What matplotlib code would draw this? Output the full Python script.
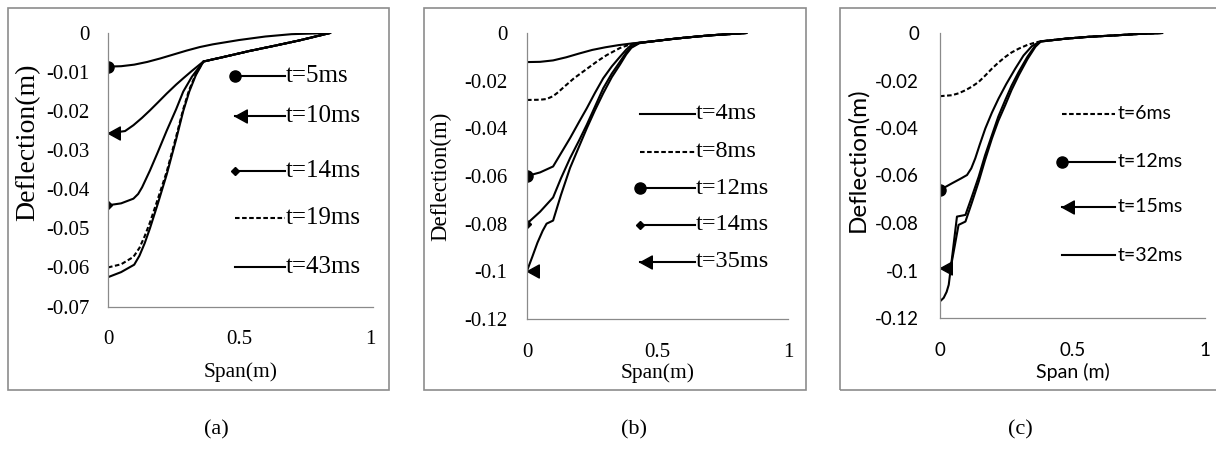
import numpy as np
import matplotlib
matplotlib.use('Agg')
import matplotlib.pyplot as plt
from matplotlib.path import Path
from matplotlib.patches import Rectangle

# ---------------- data ----------------
# panel (a)
a5_x = [0, 0.05, 0.10, 0.15, 0.20, 0.25, 0.30, 0.35, 0.40, 0.50, 0.60, 0.70, 0.847]
a5_y = [-0.0086, -0.0085, -0.0081, -0.0074, -0.0065, -0.0055, -0.0045, -0.0036, -0.0029,
        -0.0018, -0.0009, -0.0003, 0]
a10_x = [0, 0.065, 0.097, 0.13, 0.16, 0.19, 0.224, 0.26, 0.287, 0.32, 0.364,
         0.45, 0.54, 0.64, 0.73, 0.847]
a10_y = [-0.0257, -0.0251, -0.0236, -0.0217, -0.0198, -0.0178, -0.0155, -0.0132, -0.0116,
         -0.0097, -0.0073, -0.0060, -0.0046, -0.0032, -0.0019, 0]
a14_x = [0, 0.05, 0.097, 0.115, 0.13, 0.16, 0.19, 0.224, 0.26, 0.287, 0.32, 0.364,
         0.45, 0.54, 0.64, 0.73, 0.847]
a14_y = [-0.0441, -0.0436, -0.0424, -0.0412, -0.0395, -0.0352, -0.0305, -0.0250, -0.0195,
         -0.0150, -0.0112, -0.0073, -0.0060, -0.0046, -0.0032, -0.0019, 0]
a19_x = [0, 0.05, 0.097, 0.12, 0.14, 0.16, 0.19, 0.224, 0.26, 0.287, 0.31, 0.335, 0.364,
         0.45, 0.54, 0.64, 0.73, 0.847]
a19_y = [-0.0600, -0.0592, -0.0573, -0.0550, -0.0520, -0.0485, -0.0425, -0.0355, -0.0265,
         -0.0195, -0.0145, -0.0105, -0.0073, -0.0060, -0.0046, -0.0032, -0.0019, 0]
a43_x = [0, 0.05, 0.10, 0.12, 0.14, 0.16, 0.19, 0.224, 0.26, 0.287, 0.31, 0.335, 0.364,
         0.45, 0.54, 0.64, 0.73, 0.847]
a43_y = [-0.0625, -0.0612, -0.0593, -0.0570, -0.0538, -0.0500, -0.0437, -0.0362, -0.0272,
         -0.0200, -0.0150, -0.0108, -0.0073, -0.0060, -0.0046, -0.0032, -0.0019, 0]

# panel (b)
b4_x = [0, 0.05, 0.10, 0.15, 0.20, 0.25, 0.30, 0.35, 0.40, 0.48, 0.55, 0.61, 0.70, 0.84]
b4_y = [-0.0122, -0.0121, -0.0115, -0.0102, -0.0086, -0.0071, -0.0060, -0.0051, -0.0044,
        -0.0035, -0.0026, -0.0019, -0.0010, 0]
b8_x = [0, 0.05, 0.075, 0.10, 0.12, 0.14, 0.18, 0.23, 0.27, 0.305, 0.356, 0.40, 0.43,
        0.48, 0.55, 0.61, 0.70, 0.84]
b8_y = [-0.0281, -0.0280, -0.0277, -0.0265, -0.0248, -0.0228, -0.0190, -0.0150, -0.0118,
        -0.0093, -0.0063, -0.0046, -0.0041, -0.0035, -0.0026, -0.0019, -0.0010, 0]
b12_x = [0, 0.05, 0.10, 0.13, 0.165, 0.20, 0.229, 0.26, 0.292, 0.325, 0.356, 0.38, 0.40,
         0.43, 0.48, 0.55, 0.61, 0.70, 0.84]
b12_y = [-0.0600, -0.0585, -0.0560, -0.0505, -0.0441, -0.0372, -0.0316, -0.0252, -0.0190,
         -0.0140, -0.0100, -0.0070, -0.0050, -0.0041, -0.0035, -0.0026, -0.0019, -0.0010, 0]
b14_x = [0, 0.05, 0.10, 0.13, 0.165, 0.20, 0.229, 0.26, 0.292, 0.325, 0.356, 0.38, 0.40,
         0.43, 0.48, 0.55, 0.61, 0.70, 0.84]
b14_y = [-0.0800, -0.0750, -0.0690, -0.0610, -0.0525, -0.0450, -0.0385, -0.0310, -0.0232,
         -0.0170, -0.0121, -0.0082, -0.0058, -0.0042, -0.0035, -0.0026, -0.0019, -0.0010, 0]
b35_x = [0, 0.02, 0.04, 0.06, 0.075, 0.10, 0.13, 0.165, 0.20, 0.229, 0.26, 0.292, 0.325,
         0.356, 0.38, 0.40, 0.43, 0.48, 0.55, 0.61, 0.70, 0.84]
b35_y = [-0.0998, -0.0940, -0.0880, -0.0830, -0.0800, -0.0787, -0.0680, -0.0566, -0.0475,
         -0.0400, -0.0325, -0.0253, -0.0185, -0.0133, -0.0090, -0.0062, -0.0043, -0.0035,
         -0.0026, -0.0019, -0.0010, 0]

# panel (c)
c6_x = [0, 0.045, 0.07, 0.096, 0.12, 0.146, 0.17, 0.196, 0.22, 0.246, 0.27, 0.297, 0.33,
        0.36, 0.38, 0.473, 0.562, 0.662, 0.75, 0.838]
c6_y = [-0.0266, -0.0262, -0.0254, -0.0241, -0.0226, -0.0206, -0.0180, -0.0150, -0.0125,
        -0.0101, -0.0082, -0.0066, -0.0050, -0.0040, -0.0035, -0.0024, -0.0016, -0.0010,
        -0.0004, 0]
c12_x = [0, 0.045, 0.08, 0.102, 0.118, 0.133, 0.15, 0.171, 0.196, 0.221, 0.25, 0.284,
         0.315, 0.347, 0.38, 0.473, 0.562, 0.662, 0.75, 0.838]
c12_y = [-0.0661, -0.0633, -0.0612, -0.0598, -0.0570, -0.0528, -0.0470, -0.0402, -0.0335,
         -0.0276, -0.0215, -0.0150, -0.0095, -0.0055, -0.0035, -0.0024, -0.0016, -0.0010,
         -0.0004, 0]
c15_x = [0, 0.039, 0.055, 0.070, 0.096, 0.12, 0.146, 0.17, 0.196, 0.22, 0.246, 0.27,
         0.297, 0.33, 0.36, 0.38, 0.473, 0.562, 0.662, 0.75, 0.838]
c15_y = [-0.0990, -0.0997, -0.0900, -0.0808, -0.0794, -0.0715, -0.0626, -0.0535, -0.0444,
         -0.0370, -0.0304, -0.0240, -0.0178, -0.0110, -0.0058, -0.0036, -0.0024, -0.0016,
         -0.0010, -0.0004, 0]
c32_x = [0, 0.014, 0.025, 0.033, 0.045, 0.064, 0.096, 0.12, 0.146, 0.17, 0.196, 0.22,
         0.246, 0.27, 0.297, 0.33, 0.36, 0.38, 0.473, 0.562, 0.662, 0.75, 0.838]
c32_y = [-0.1130, -0.1115, -0.1090, -0.1060, -0.0950, -0.0773, -0.0766, -0.0690, -0.0605,
         -0.0515, -0.0430, -0.0352, -0.0283, -0.0222, -0.0164, -0.0100, -0.0052, -0.0036,
         -0.0024, -0.0016, -0.0010, -0.0004, 0]

a_labels = ['t=5ms', 't=10ms', 't=14ms', 't=19ms', 't=43ms']
b_labels = ['t=4ms', 't=8ms', 't=12ms', 't=14ms', 't=35ms']
c_labels = ['t=6ms', 't=12ms', 't=15ms', 't=32ms']

a_yticks = [0, -0.01, -0.02, -0.03, -0.04, -0.05, -0.06, -0.07]
a_yticklabels = ['0', '-0.01', '-0.02', '-0.03', '-0.04', '-0.05', '-0.06', '-0.07']
bc_yticks = [0, -0.02, -0.04, -0.06, -0.08, -0.1, -0.12]
bc_yticklabels = ['0', '-0.02', '-0.04', '-0.06', '-0.08', '-0.1', '-0.12']
xticks = [0, 0.5, 1]
xticklabels = ['0', '0.5', '1']

# ---------------- styles ----------------
arrow = Path([(0, 0), (1, 0.55), (1, -0.55), (0, 0)],
             [Path.MOVETO, Path.LINETO, Path.LINETO, Path.CLOSEPOLY])
dash = (0, (2.2, 1.2))
M_CIRCLE = dict(marker='o', ms=8)
M_DIAMOND = dict(marker='D', ms=4.5)
M_ARROW = dict(marker=arrow, ms=17)
M_NONE = dict(marker=None)

SERIF = ['Liberation Serif', 'DejaVu Serif']
SANS = ['Lato', 'DejaVu Sans']
AXCOL = '#8a8a8a'

fig = plt.figure(figsize=(12.16, 4.58), dpi=100)

# panel frames
for x0, x1 in [(8, 389), (424, 806), (840, 1222)]:
    fig.patches.append(Rectangle((x0 / 1216, 68 / 458), (x1 - x0) / 1216, 382 / 458,
                                 transform=fig.transFigure, fill=False,
                                 edgecolor='#8c8c8c', lw=1.2))


def setup(ax, xmax, yticks, yticklabels, family, tsize, ylab, ylsize, ylpos,
          xlab, xlsize, xlpos, ypad, xpad):
    ax.set_xlim(0, xmax)
    ax.set_ylim(yticks[-1], 0)
    for s in ['top', 'right']:
        ax.spines[s].set_visible(False)
    for s in ['left', 'bottom']:
        ax.spines[s].set_color(AXCOL)
        ax.spines[s].set_linewidth(0.9)
    ax.set_xticks(xticks)
    ax.set_xticklabels(xticklabels)
    ax.set_yticks(yticks)
    ax.set_yticklabels(yticklabels)
    ax.tick_params(axis='both', labelsize=tsize, labelfontfamily=family)
    ax.tick_params(axis='y', length=0, pad=ypad)
    ax.tick_params(axis='x', length=0, pad=xpad)
    ax.set_ylabel(ylab, family=family, fontsize=ylsize)
    ax.yaxis.set_label_coords(*ylpos)
    ax.set_xlabel(xlab, family=family, fontsize=xlsize)
    ax.xaxis.set_label_coords(*xlpos)
    ax.patch.set_alpha(0)


def series(ax, x, y, style, ls='-'):
    ax.plot(x, y, color='black', lw=1.5, ls=ls, markevery=[0],
            markerfacecolor='black', markeredgecolor='black', **style)


def legend(ax, labels, styles, lss, ys, x0, x1, xt, family, size):
    for lab, st, ls, yy in zip(labels, styles, lss, ys):
        ax.plot([x0, x1], [yy, yy], transform=ax.transAxes, color='black', lw=1.5,
                ls=ls, markevery=[0], clip_on=False,
                markerfacecolor='black', markeredgecolor='black', **st)
        ax.text(xt, yy, lab, transform=ax.transAxes, family=family, fontsize=size,
                va='center', ha='left')


# ----- (a) -----
ax = fig.add_axes([108 / 1216, (458 - 306.5) / 458, 265 / 1216, 273.5 / 458])
series(ax, a5_x, a5_y, M_CIRCLE)
series(ax, a10_x, a10_y, M_ARROW)
series(ax, a14_x, a14_y, M_DIAMOND)
series(ax, a19_x, a19_y, M_NONE, ls=dash)
series(ax, a43_x, a43_y, M_NONE)
setup(ax, 1.011, a_yticks, a_yticklabels, SERIF, 15, 'Deflection(m)', 20, (-0.255, 0.6),
      'Span(m)', 15.5, (0.5, -0.203), 13, 17)
legend(ax, a_labels, [M_CIRCLE, M_ARROW, M_DIAMOND, M_NONE, M_NONE],
       ['-', '-', '-', dash, '-'], [0.843, 0.697, 0.495, 0.323, 0.144],
       0.479, 0.668, 0.672, SERIF, 18)

# ----- (b) -----
ax = fig.add_axes([527 / 1216, (458 - 319) / 458, 261 / 1216, 286 / 458])
series(ax, b4_x, b4_y, M_NONE)
series(ax, b8_x, b8_y, M_NONE, ls=dash)
series(ax, b12_x, b12_y, M_CIRCLE)
series(ax, b14_x, b14_y, M_DIAMOND)
series(ax, b35_x, b35_y, M_ARROW)
setup(ax, 1.0, bc_yticks, bc_yticklabels, SERIF, 15, 'Deflection(m)', 16.5, (-0.29, 0.5),
      'Span(m)', 15.5, (0.5, -0.154), 14, 17)
legend(ax, b_labels, [M_NONE, M_NONE, M_CIRCLE, M_DIAMOND, M_ARROW],
       ['-', dash, '-', '-', '-'], [0.717, 0.585, 0.457, 0.329, 0.201],
       0.433, 0.644, 0.648, SERIF, 17.5)

# ----- (c) -----
ax = fig.add_axes([940 / 1216, (458 - 318) / 458, 265 / 1216, 285 / 458])
series(ax, c6_x, c6_y, M_NONE, ls=dash)
series(ax, c12_x, c12_y, M_CIRCLE)
series(ax, c15_x, c15_y, M_ARROW)
series(ax, c32_x, c32_y, M_NONE)
setup(ax, 1.0, bc_yticks, bc_yticklabels, SANS, 13.5, 'Deflection(m)', 17.5, (-0.27, 0.554),
      'Span (m)', 14, (0.5, -0.158), 15, 17)
legend(ax, c_labels, [M_NONE, M_CIRCLE, M_ARROW, M_NONE],
       [dash, '-', '-', '-'], [0.716, 0.548, 0.390, 0.221],
       0.459, 0.66, 0.67, SANS, 14)

# sub-figure captions
for xc, cap in [(216, '(a)'), (634, '(b)'), (1020, '(c)')]:
    fig.text(xc / 1216, 1 - 430 / 458, cap, family=SERIF, fontsize=16,
             ha='center', va='center')

fig.savefig('out.png', dpi=100)
